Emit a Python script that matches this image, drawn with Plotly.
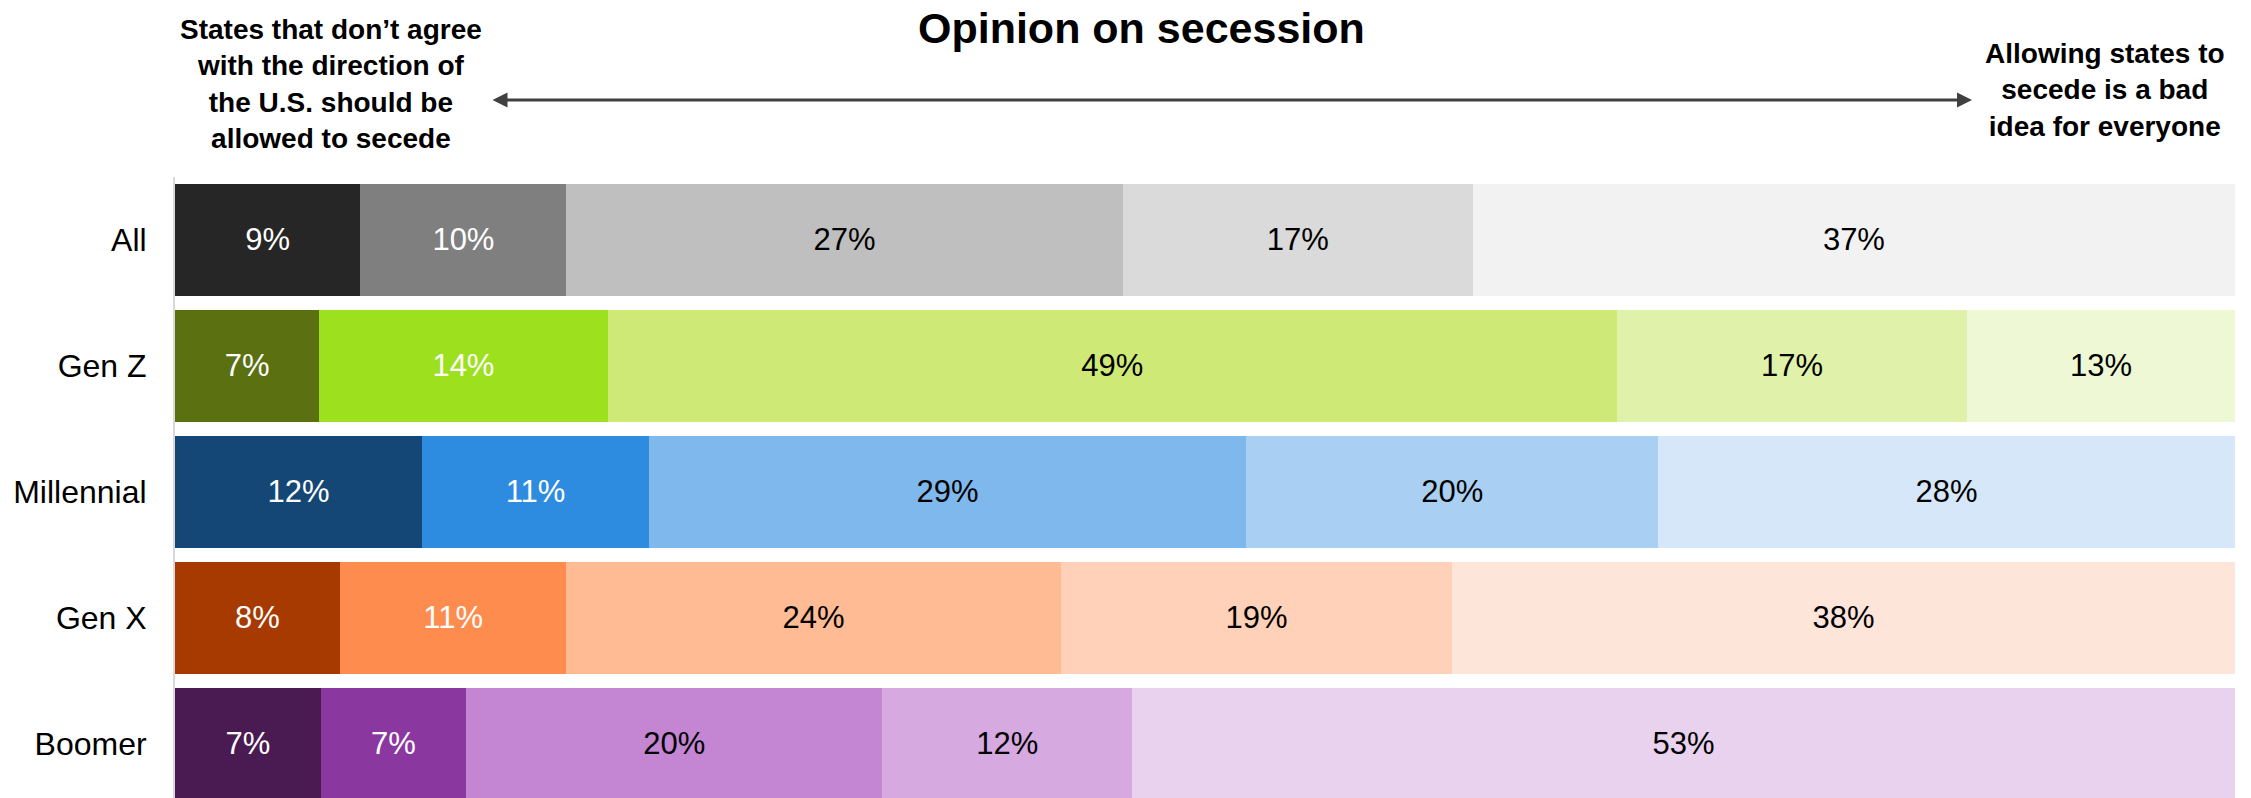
import plotly.graph_objects as go

# Survey groups (top to bottom) and the five answer levels, from
# "should be allowed to secede" (level 1) to "bad idea for everyone" (level 5)
groups = ["All", "Gen Z", "Millennial", "Gen X", "Boomer"]
level1 = [9, 7, 12, 8, 7]
level2 = [10, 14, 11, 11, 7]
level3 = [27, 49, 29, 24, 20]
level4 = [17, 17, 20, 19, 12]
level5 = [37, 13, 28, 38, 53]

# One shade ramp per group (dark -> light)
colors1 = ["#262626", "#5a7011", "#144775", "#a63a00", "#4a1b52"]
colors2 = ["#7f7f7f", "#9de01e", "#2d8ce0", "#ff8c4f", "#8a38a0"]
colors3 = ["#bfbfbf", "#cfe977", "#7fb8ec", "#ffbb93", "#c485d3"]
colors4 = ["#d9dad9", "#e0f2a9", "#a9d0f3", "#ffd1b8", "#d6a9e0"]
colors5 = ["#f2f2f2", "#eef8d5", "#d5e7f8", "#fee5da", "#e8d2ee"]

levels = [level1, level2, level3, level4, level5]
palettes = [colors1, colors2, colors3, colors4, colors5]
label_colors = ["white", "white", "black", "black", "black"]

FONT = "Liberation Sans, Arial, sans-serif"
W, H = 2251, 798
ML, MR, MT, MB = 175, 16, 177, 0
PW, PH = W - ML - MR, H - MT - MB


def px_x(x):
    return (x - ML) / PW


def px_y(y):
    return (H - MB - y) / PH


fig = go.Figure()
for vals, cols, tcol in zip(levels, palettes, label_colors):
    fig.add_trace(go.Bar(
        y=groups,
        x=vals,
        orientation="h",
        marker=dict(color=cols, line=dict(width=0)),
        text=[f"{v}%" for v in vals],
        textposition="inside",
        insidetextanchor="middle",
        textangle=0,
        textfont=dict(family=FONT, size=31, color=tcol),
        showlegend=False,
        hoverinfo="skip",
    ))

fig.update_layout(
    width=W,
    height=H,
    barmode="stack",
    barnorm="percent",
    bargap=0.111,
    paper_bgcolor="white",
    plot_bgcolor="white",
    margin=dict(l=ML, r=MR, t=MT, b=MB, pad=0),
    font=dict(family=FONT, color="black"),
    xaxis=dict(range=[0, 100], visible=False, fixedrange=True),
    yaxis=dict(
        type="category",
        categoryorder="array",
        categoryarray=groups,
        range=[4.429, -0.5],
        showline=True,
        linecolor="#d9d9d9",
        linewidth=2,
        showgrid=False,
        zeroline=False,
        ticks="",
        ticklabelstandoff=20,
        tickfont=dict(family=FONT, size=32, color="black"),
        fixedrange=True,
    ),
)

ARROW_LEFT, ARROW_RIGHT, ARROW_Y = 491, 1972, 100

annotations = [
    dict(text="<b>Opinion on secession</b>", x=px_x(1141), y=px_y(28),
         xref="paper", yref="paper", xanchor="center", yanchor="middle",
         showarrow=False, font=dict(family=FONT, size=43, color="black")),
    dict(text="<b>States that don’t agree<br>with the direction of<br>the U.S. should be<br>allowed to secede</b>",
         x=px_x(331), y=px_y(84), xref="paper", yref="paper",
         xanchor="center", yanchor="middle", align="center",
         showarrow=False, font=dict(family=FONT, size=28, color="black")),
    dict(text="<b>Allowing states to<br>secede is a bad<br>idea for everyone</b>",
         x=px_x(2105), y=px_y(90), xref="paper", yref="paper",
         xanchor="center", yanchor="middle", align="center",
         showarrow=False, font=dict(family=FONT, size=28, color="black")),
    # double-headed arrow spanning the opinion scale
    dict(text="", x=px_x(ARROW_RIGHT), y=px_y(ARROW_Y),
         ax=ARROW_LEFT - ARROW_RIGHT, ay=0,
         xref="paper", yref="paper", axref="pixel", ayref="pixel",
         showarrow=True, arrowside="end+start", arrowhead=2,
         arrowsize=1, arrowwidth=3, arrowcolor="#404040"),
]
fig.update_layout(annotations=annotations)

fig.write_html("out.html", config={"displayModeBar": False})
